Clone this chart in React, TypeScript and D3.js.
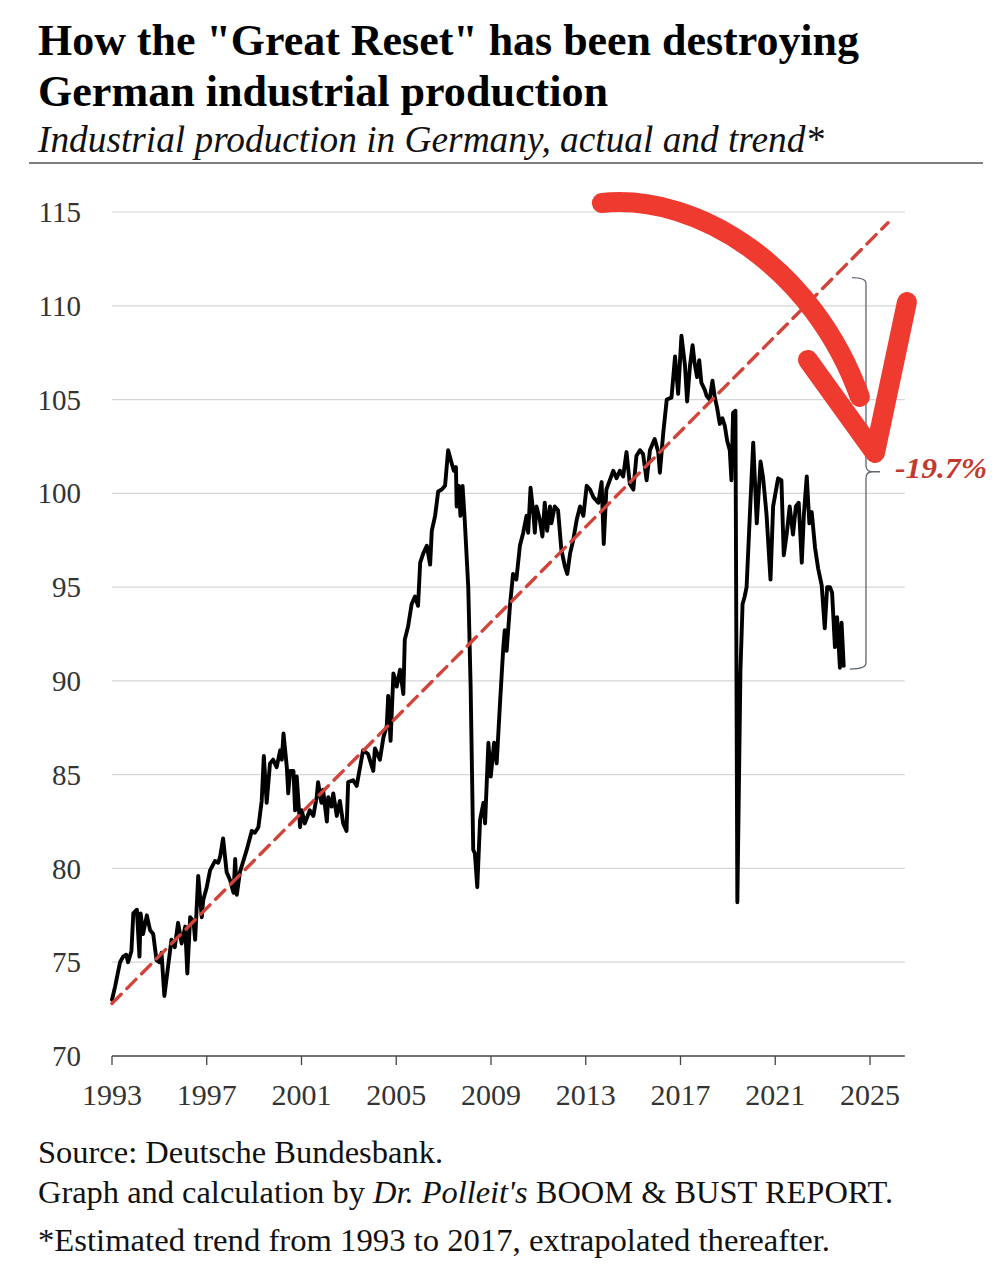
import * as d3 from 'd3';

const SERIF = '"Liberation Serif", "Times New Roman", Times, serif';

// axis ticks
const yTicks = [70, 75, 80, 85, 90, 95, 100, 105, 110, 115];
const xTicks = [1993, 1997, 2001, 2005, 2009, 2013, 2017, 2021, 2025];

// industrial production index as [year, value]
const ip1990s: [number, number][] = [
  [1993.0, 73.0], [1993.13, 73.7], [1993.34, 75.0], [1993.47, 75.3], [1993.6, 75.4],
  [1993.68, 75.0], [1993.82, 75.6], [1993.9, 77.6], [1994.05, 77.8], [1994.16, 75.3],
  [1994.21, 77.6], [1994.31, 76.5], [1994.47, 77.5], [1994.61, 76.7], [1994.74, 76.5],
  [1994.81, 75.8], [1994.88, 75.1], [1995.01, 75.0], [1995.09, 75.5], [1995.21, 73.2],
  [1995.37, 74.8], [1995.51, 76.2], [1995.65, 75.8], [1995.79, 77.1], [1995.94, 76.0],
  [1996.09, 76.9], [1996.18, 74.4], [1996.3, 77.4], [1996.44, 77.2], [1996.51, 76.2],
  [1996.64, 79.6], [1996.79, 77.4], [1996.85, 78.3], [1997.0, 79.0], [1997.14, 79.9],
  [1997.35, 80.4], [1997.48, 80.3], [1997.56, 80.6], [1997.69, 81.6], [1997.84, 79.8],
  [1997.98, 79.4], [1998.13, 78.7], [1998.2, 80.5], [1998.27, 78.6], [1998.4, 79.8],
  [1998.69, 81.0], [1998.9, 82.0], [1999.03, 81.9], [1999.18, 82.2], [1999.32, 83.6],
  [1999.41, 86.0], [1999.53, 83.5], [1999.67, 85.6], [1999.8, 85.8], [1999.95, 85.4],
];

const ip2000s: [number, number][] = [
  [2000.1, 86.3], [2000.17, 85.8], [2000.24, 87.2], [2000.38, 85.4], [2000.44, 84.0],
  [2000.52, 85.2], [2000.66, 85.2], [2000.73, 83.1], [2000.8, 84.9], [2000.94, 82.2],
  [2001.01, 83.1], [2001.14, 82.4], [2001.35, 83.1], [2001.5, 82.8], [2001.64, 83.8],
  [2001.7, 84.6], [2001.84, 83.5], [2001.91, 84.2], [2002.07, 82.5], [2002.13, 83.8],
  [2002.27, 83.3], [2002.34, 84.0], [2002.49, 82.8], [2002.62, 83.6], [2002.76, 82.4],
  [2002.9, 82.0], [2002.97, 84.6], [2003.18, 84.7], [2003.33, 84.4], [2003.6, 86.3],
  [2003.81, 86.1], [2004.03, 85.2], [2004.1, 86.4], [2004.31, 85.8], [2004.46, 87.0],
  [2004.6, 87.6], [2004.66, 89.2], [2004.76, 86.8], [2004.88, 90.4], [2005.02, 89.7],
  [2005.16, 90.6], [2005.3, 89.3], [2005.36, 92.2], [2005.5, 92.9], [2005.65, 94.1],
  [2005.79, 94.5], [2005.92, 94.0], [2006.01, 96.3], [2006.14, 96.8], [2006.29, 97.2],
  [2006.43, 96.2], [2006.5, 98.0], [2006.64, 98.8], [2006.77, 100.1], [2006.92, 100.2],
  [2007.06, 100.4], [2007.19, 102.3], [2007.34, 101.6], [2007.43, 101.2], [2007.52, 101.4],
  [2007.55, 99.3], [2007.64, 100.4], [2007.71, 98.8], [2007.8, 100.4], [2007.89, 98.6],
  [2008.04, 95.0], [2008.14, 89.7], [2008.25, 81.0], [2008.32, 80.8], [2008.42, 79.0],
  [2008.54, 82.6], [2008.68, 83.5], [2008.75, 82.4], [2008.89, 86.7], [2008.99, 84.9],
  [2009.13, 86.7], [2009.24, 85.6], [2009.38, 88.8], [2009.52, 91.8], [2009.58, 92.7],
  [2009.66, 91.6], [2009.8, 94.0], [2009.93, 95.7],
];

const ip2010s: [number, number][] = [
  [2010.07, 95.4], [2010.22, 97.2], [2010.36, 97.9], [2010.5, 98.8], [2010.57, 97.9],
  [2010.67, 100.3], [2010.79, 98.9], [2010.85, 97.9], [2010.92, 99.3], [2011.06, 98.6],
  [2011.17, 97.7], [2011.27, 99.5], [2011.37, 98.0], [2011.49, 99.3], [2011.55, 98.4],
  [2011.69, 99.3], [2011.83, 99.1], [2011.97, 97.0], [2012.12, 96.1], [2012.22, 95.7],
  [2012.34, 96.8], [2012.47, 97.5], [2012.62, 98.6], [2012.76, 99.3], [2012.9, 98.8],
  [2013.04, 100.4], [2013.18, 100.2], [2013.32, 99.8], [2013.53, 99.5], [2013.67, 100.6],
  [2013.76, 97.3], [2013.87, 100.2], [2014.16, 101.2], [2014.3, 100.8], [2014.44, 101.2],
  [2014.58, 100.9], [2014.72, 102.2], [2014.86, 100.5], [2015.01, 100.2], [2015.14, 102.0],
  [2015.29, 102.3], [2015.42, 102.1], [2015.57, 100.7], [2015.71, 102.3], [2015.91, 102.9],
  [2016.06, 102.2], [2016.13, 101.1], [2016.27, 103.2], [2016.42, 105.0], [2016.62, 105.1],
  [2016.77, 107.3], [2016.9, 105.3], [2017.04, 108.4], [2017.19, 106.8], [2017.28, 104.9],
  [2017.4, 106.8], [2017.51, 107.9], [2017.6, 106.9], [2017.7, 106.2], [2017.79, 107.1],
  [2017.88, 105.9], [2018.03, 105.5], [2018.1, 105.2], [2018.23, 105.0], [2018.35, 106.0],
  [2018.45, 105.1], [2018.54, 104.6], [2018.66, 103.7], [2018.77, 104.0], [2018.87, 103.6],
  [2018.97, 102.8], [2019.08, 102.3], [2019.15, 100.7], [2019.22, 104.3], [2019.32, 104.4],
  [2019.4, 78.2], [2019.53, 90.5], [2019.62, 94.1], [2019.71, 94.5], [2019.79, 95.0],
  [2019.93, 98.9],
];

const ip2020s: [number, number][] = [
  [2020.07, 102.7], [2020.22, 98.4], [2020.38, 101.7], [2020.49, 100.8], [2020.63, 98.9],
  [2020.8, 95.4], [2020.91, 99.3], [2021.12, 100.8], [2021.26, 100.7], [2021.36, 96.7],
  [2021.48, 97.8], [2021.61, 99.3], [2021.75, 97.8], [2021.87, 99.3], [2021.99, 99.5],
  [2022.12, 96.3], [2022.21, 98.9], [2022.33, 100.9], [2022.44, 98.4], [2022.54, 99.0],
  [2022.68, 97.1], [2022.81, 96.0], [2022.96, 95.1], [2023.09, 92.8], [2023.19, 95.0],
  [2023.31, 95.0], [2023.4, 94.7], [2023.52, 91.8], [2023.61, 93.4], [2023.73, 90.7],
  [2023.8, 93.1], [2023.89, 90.8],
];

// trend 1993-2017, extrapolated
const trendPoints: [number, number][] = [[1993, 72.8], [2025.76, 114.43]];

// gap bracket (trend vs latest value)
const gapYear = 2024.83;
const gapTop = 111.5;
const gapBottom = 90.63;
const gapMid = 101.15;
const gapLabel = '-19.7%';

// hand-drawn red arrow, in data units
const arrowCurve: [number, number][] = [[2013.68, 115.48], [2017.82, 116.01], [2022.67, 111.91], [2024.57, 105.14]];
const arrowHead: [number, number][] = [[2022.38, 107.11], [2025.21, 102.15], [2026.56, 110.2]];

const axisEnd = 2026.47;

export default function App() {
  const x = d3.scaleLinear().domain([1993, 2025]).range([112, 870]);
  const y = d3.scaleLinear().domain([70, 115]).range([1056, 212]);

  const line = d3.line<[number, number]>()
    .x(d => x(d[0]))
    .y(d => y(d[1]));

  const series = [...ip1990s, ...ip2000s, ...ip2010s, ...ip2020s];

  const arrow = d3.path();
  arrow.moveTo(x(arrowCurve[0][0]), y(arrowCurve[0][1]));
  arrow.bezierCurveTo(
    x(arrowCurve[1][0]), y(arrowCurve[1][1]),
    x(arrowCurve[2][0]), y(arrowCurve[2][1]),
    x(arrowCurve[3][0]), y(arrowCurve[3][1])
  );

  // bracket with a small notch pointing at the label
  const bx = x(gapYear);
  const bTop = y(gapTop);
  const bBot = y(gapBottom);
  const bMid = y(gapMid);
  const bracket = d3.path();
  bracket.moveTo(x(2024.24), bTop);
  bracket.quadraticCurveTo(bx, bTop, bx, bTop + 6);
  bracket.lineTo(bx, bMid - 7);
  bracket.quadraticCurveTo(bx, bMid, bx + 6, bMid);
  bracket.lineTo(x(2025.42), bMid);
  bracket.moveTo(bx + 6, bMid);
  bracket.quadraticCurveTo(bx, bMid, bx, bMid + 7);
  bracket.lineTo(bx, bBot - 6);
  bracket.quadraticCurveTo(bx, bBot, x(2024.15), bBot);

  return (
    <div style={{ position: 'absolute', left: 0, top: 0, background: '#fff' }}>
      <svg width={1004} height={1280} style={{ display: 'block', background: '#fff' }} fontFamily={SERIF}>
        {/* heading */}
        <text x={38} y={55} fontSize={44} fontWeight="bold" fill="#000" textLength={821} lengthAdjust="spacingAndGlyphs">
          How the "Great Reset" has been destroying
        </text>
        <text x={38} y={106} fontSize={44} fontWeight="bold" fill="#000" textLength={570} lengthAdjust="spacingAndGlyphs">
          German industrial production
        </text>
        <text x={38} y={152} fontSize={37} fontStyle="italic" fill="#111" textLength={786} lengthAdjust="spacingAndGlyphs">
          Industrial production in Germany, actual and trend*
        </text>
        <line x1={29} x2={983} y1={163} y2={163} stroke="#555" strokeWidth={1.5} />

        {/* grid */}
        {yTicks.filter(t => t > 70).map(t => (
          <line key={t} x1={x(1993)} x2={x(axisEnd)} y1={y(t)} y2={y(t)} stroke="#d6d6d6" strokeWidth={1.2} />
        ))}
        {yTicks.map(t => (
          <text key={t} x={81} y={y(t)} dy="0.35em" textAnchor="end" fontSize={29} fill="#333">
            {t}
          </text>
        ))}

        {/* x axis */}
        <line x1={x(1993)} x2={x(axisEnd)} y1={y(70)} y2={y(70)} stroke="#444" strokeWidth={1.5} />
        {xTicks.map(t => (
          <g key={t}>
            <line x1={x(t)} x2={x(t)} y1={y(70)} y2={y(70) + 9} stroke="#444" strokeWidth={1.3} />
            <text x={x(t)} y={1105} textAnchor="middle" fontSize={30} fill="#333">
              {t}
            </text>
          </g>
        ))}

        {/* actual */}
        <path d={line(series) ?? ''} fill="none" stroke="#000" strokeWidth={3.9} strokeLinejoin="round" strokeLinecap="round" />

        {/* trend */}
        <path d={line(trendPoints) ?? ''} fill="none" stroke="#d2433a" strokeWidth={3.4} strokeDasharray="13 8" strokeLinecap="round" />

        {/* gap bracket */}
        <path d={bracket.toString()} fill="none" stroke="#5d6670" strokeWidth={1.3} />
        <text x={895} y={478} fontSize={30} fontWeight="bold" fontStyle="italic" fill="#c23a2f" textLength={92} lengthAdjust="spacingAndGlyphs">
          {gapLabel}
        </text>

        {/* red arrow */}
        <g fill="none" stroke="#ef3a30" strokeWidth={20} strokeLinecap="round" strokeLinejoin="round">
          <path d={arrow.toString()} />
          <path d={line(arrowHead) ?? ''} />
        </g>

        {/* footer */}
        <text x={38} y={1163} fontSize={32} fill="#111" textLength={405} lengthAdjust="spacingAndGlyphs">
          Source: Deutsche Bundesbank.
        </text>
        <text x={38} y={1203} fontSize={32} fill="#111" textLength={855} lengthAdjust="spacingAndGlyphs">
          Graph and calculation by <tspan fontStyle="italic">Dr. Polleit's</tspan>  BOOM &amp; BUST REPORT.
        </text>
        <text x={38} y={1251} fontSize={32} fill="#111" textLength={792} lengthAdjust="spacingAndGlyphs">
          *Estimated trend from 1993 to 2017, extrapolated thereafter.
        </text>
      </svg>
    </div>
  );
}
